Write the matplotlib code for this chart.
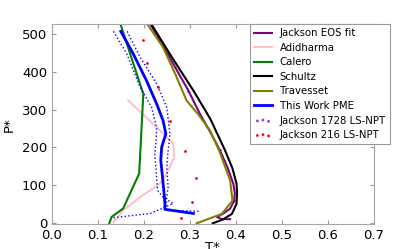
import numpy as np
import matplotlib
matplotlib.use('Agg')
import matplotlib.pyplot as plt

# Jackson EOS fit
T_eos = [0.212, 0.255, 0.297, 0.322, 0.345, 0.366, 0.383, 0.395, 0.398, 0.397, 0.388, 0.372, 0.359, 0.370, 0.388]
P_eos = [530, 440, 350, 289, 240, 192, 145, 104, 80, 60, 39, 25, 17, 11, 11]

# Adidharma
T_adi = [0.166, 0.205, 0.243, 0.264, 0.266, 0.250, 0.235, 0.192, 0.155, 0.134]
P_adi = [324, 280, 236, 210, 174, 131, 104, 69, 34, 3]

# Calero
T_cal = [0.148, 0.199, 0.190, 0.155, 0.130, 0.125]
P_cal = [530, 341, 131, 39, 17, 0]

# Schultz
T_sch = [0.214, 0.260, 0.308, 0.345, 0.377, 0.393, 0.402, 0.403, 0.402, 0.392, 0.372, 0.350]
P_sch = [530, 440, 350, 275, 192, 145, 104, 80, 52, 25, 10, 0]

# Travesset
T_tra = [0.205, 0.242, 0.268, 0.293, 0.320, 0.344, 0.364, 0.388, 0.393, 0.370, 0.315]
P_tra = [530, 464, 395, 324, 285, 245, 192, 113, 60, 25, 0]

# This Work PME
T_pme = [0.150, 0.177, 0.206, 0.228, 0.242, 0.248, 0.239, 0.237, 0.240, 0.245, 0.246, 0.246, 0.308]
P_pme = [506, 447, 376, 315, 271, 236, 201, 166, 131, 69, 50, 37, 26]

# PME uncertainty bounds
T_lo = [0.134, 0.163, 0.192, 0.217, 0.228, 0.227, 0.224, 0.227, 0.230, 0.242, 0.264, 0.214, 0.134]
P_lo = [506, 447, 359, 306, 253, 218, 183, 139, 87, 69, 52, 26, 15]
T_hi = [0.164, 0.192, 0.228, 0.250, 0.257, 0.253, 0.250, 0.253, 0.250, 0.248, 0.322]
P_hi = [506, 438, 368, 306, 236, 192, 148, 96, 69, 34, 32]

# Jackson 1728 LS-NPT
T_j1728 = [0.297, 0.366, 0.397]
P_j1728 = [350, 192, 60]

# Jackson 216 LS-NPT
T_j216 = [0.198, 0.208, 0.231, 0.257, 0.290, 0.314, 0.305, 0.280]
P_j216 = [482, 423, 359, 270, 191, 119, 57, 14]

fig = plt.figure(figsize=(4.15, 2.49), dpi=100)
ax = fig.add_axes([0.125, 0.1, 0.775, 0.803])

ax.plot(T_eos, P_eos, color='purple', lw=1.5, label='Jackson EOS fit')
ax.plot(T_adi, P_adi, color='pink', lw=1.5, label='Adidharma')
ax.plot(T_cal, P_cal, color='green', lw=1.5, label='Calero')
ax.plot(T_sch, P_sch, color='black', lw=1.5, label='Schultz')
ax.plot(T_tra, P_tra, color='olive', lw=1.5, label='Travesset')
ax.plot(T_pme, P_pme, color='blue', lw=2, label='This Work PME')
ax.plot(T_lo, P_lo, color='blue', lw=1, ls=':')
ax.plot(T_hi, P_hi, color='blue', lw=1, ls=':')
ax.scatter(T_j1728, P_j1728, color='#9933cc', s=4, lw=0, label='Jackson 1728 LS-NPT')
ax.scatter(T_j216, P_j216, color='red', s=4, lw=0, label='Jackson 216 LS-NPT')

ax.set_xlim(0, 0.7)
ax.set_ylim(-2, 525)
ax.set_xticks(np.arange(0, 0.71, 0.1))
ax.set_yticks(np.arange(0, 501, 100))
ax.tick_params(direction='in', top=True, right=True, labelsize=9.5, colors='0.6',
               labelcolor='black', length=3)
for s in ax.spines.values():
    s.set_color('0.65')
ax.set_xlabel('T*', fontsize=9.5, labelpad=-1)
ax.set_ylabel('P*', fontsize=9.5, labelpad=4)

leg = ax.legend(loc='upper left', bbox_to_anchor=(0.617, 1.0), borderaxespad=0,
                fontsize=7.3, fancybox=False, framealpha=1, edgecolor='0.6',
                scatterpoints=3, handlelength=1.7, labelspacing=0.45)
leg.get_frame().set_linewidth(0.8)

fig.savefig('out.png', dpi=100)
